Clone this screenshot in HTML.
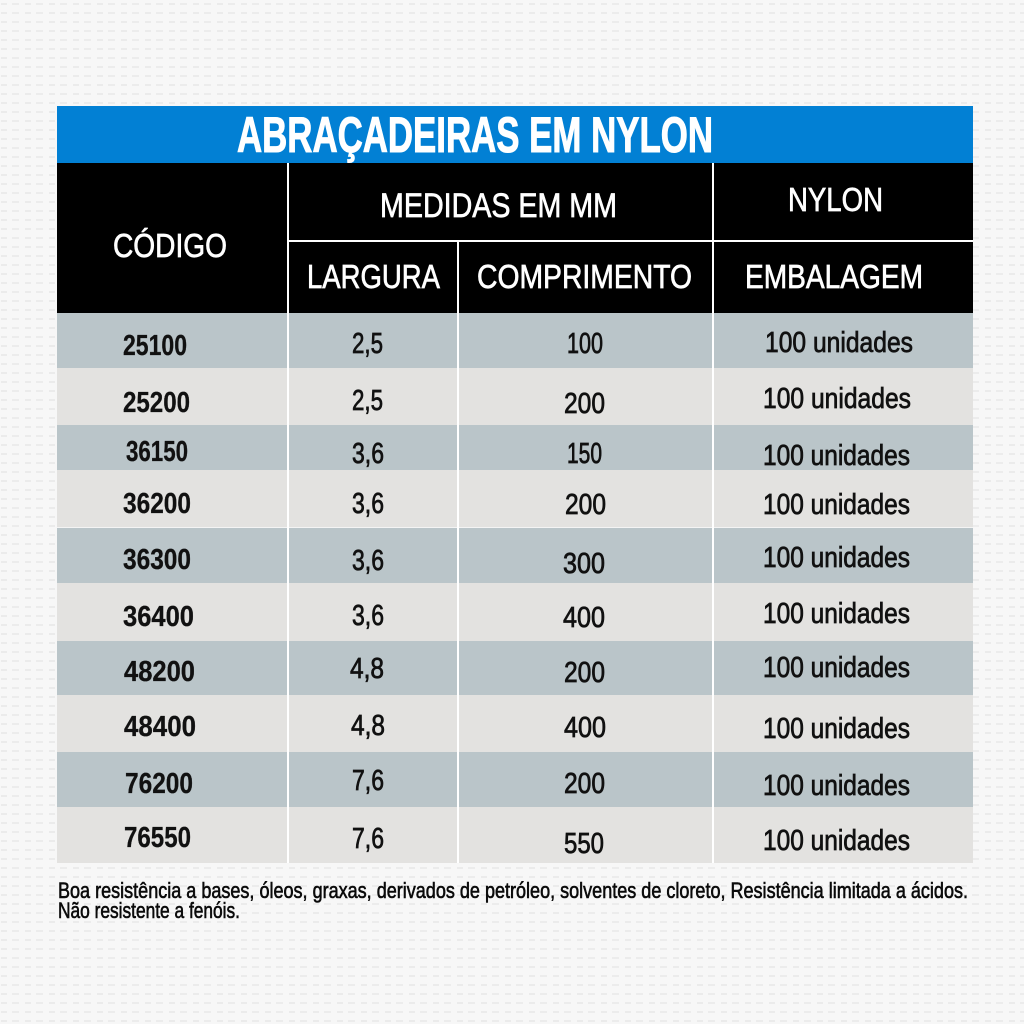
<!DOCTYPE html>
<html>
<head>
<meta charset="utf-8">
<style>
html,body{margin:0;padding:0;background:#f5f5f5;}
svg{display:block;}
text{font-family:"Liberation Sans","DejaVu Sans",sans-serif;}
.h{fill:#fff;stroke:#fff;stroke-width:0.7;font-size:33px;}
.c{fill:#111;stroke:#111;stroke-width:0.3;font-weight:bold;font-size:29px;}
.d{fill:#111;stroke:#111;stroke-width:0.75;font-size:29px;}
.f{fill:#0a0a0a;stroke:#0a0a0a;stroke-width:0.6;font-size:22px;}
</style>
</head>
<body>
<svg width="1024" height="1024" viewBox="0 0 1024 1024" xmlns="http://www.w3.org/2000/svg">
<defs>
<pattern id="tex" width="24" height="9" patternUnits="userSpaceOnUse">
<rect width="24" height="9" fill="#f7f7f7"/>
<rect x="1" y="3" width="6" height="2" fill="#ebebeb"/>
<rect x="12" y="3" width="7" height="2" fill="#ececec"/>
</pattern>
</defs>
<rect width="1024" height="1024" fill="url(#tex)"/>

<!-- title bar -->
<rect x="57" y="106" width="916" height="57" fill="#0280d4"/>
<text x="237" y="152" font-size="50" font-weight="bold" fill="#fff" stroke="#fff" stroke-width="1" textLength="476" lengthAdjust="spacingAndGlyphs">ABRAÇADEIRAS EM NYLON</text>

<!-- header -->
<rect x="57" y="163" width="916" height="150" fill="#000"/>

<!-- rows -->
<rect x="57" y="313" width="916" height="55" fill="#bac5c9"/>
<rect x="57" y="368" width="916" height="57" fill="#e3e2e0"/>
<rect x="57" y="425" width="916" height="45" fill="#bac5c9"/>
<rect x="57" y="470" width="916" height="57" fill="#e3e2e0"/>
<rect x="57" y="527" width="916" height="56" fill="#bac5c9"/>
<rect x="57" y="583" width="916" height="58" fill="#e3e2e0"/>
<rect x="57" y="641" width="916" height="54" fill="#bac5c9"/>
<rect x="57" y="695" width="916" height="57" fill="#e3e2e0"/>
<rect x="57" y="752" width="916" height="55" fill="#bac5c9"/>
<rect x="57" y="807" width="916" height="56" fill="#e3e2e0"/>

<!-- lines -->
<rect x="57" y="527" width="916" height="1" fill="#f4f4f4"/>
<rect x="287" y="163" width="2" height="700" fill="#fff"/>
<rect x="712" y="163" width="2" height="700" fill="#fff"/>
<rect x="457" y="241" width="2" height="622" fill="#fff"/>
<rect x="287" y="240" width="686" height="2" fill="#fff"/>

<!-- header text -->
<text class="h" x="113" y="257" textLength="114" lengthAdjust="spacingAndGlyphs">CÓDIGO</text>
<text class="h" x="380" y="217" textLength="237" lengthAdjust="spacingAndGlyphs" style="font-size:34px">MEDIDAS EM MM</text>
<text class="h" x="788" y="211" textLength="95" lengthAdjust="spacingAndGlyphs">NYLON</text>
<text class="h" x="307" y="288" textLength="133" lengthAdjust="spacingAndGlyphs">LARGURA</text>
<text class="h" x="477" y="288" textLength="215" lengthAdjust="spacingAndGlyphs">COMPRIMENTO</text>
<text class="h" x="745" y="288" textLength="178" lengthAdjust="spacingAndGlyphs">EMBALAGEM</text>

<!-- codes -->
<text class="c" x="123" y="355" textLength="64" lengthAdjust="spacingAndGlyphs">25100</text>
<text class="c" x="123" y="412" textLength="67" lengthAdjust="spacingAndGlyphs">25200</text>
<text class="c" x="126" y="461" textLength="62" lengthAdjust="spacingAndGlyphs">36150</text>
<text class="c" x="123" y="513" textLength="68" lengthAdjust="spacingAndGlyphs">36200</text>
<text class="c" x="123" y="569" textLength="68" lengthAdjust="spacingAndGlyphs">36300</text>
<text class="c" x="123" y="626" textLength="71" lengthAdjust="spacingAndGlyphs">36400</text>
<text class="c" x="124" y="681" textLength="71" lengthAdjust="spacingAndGlyphs">48200</text>
<text class="c" x="124" y="736" textLength="72" lengthAdjust="spacingAndGlyphs">48400</text>
<text class="c" x="125" y="793" textLength="68" lengthAdjust="spacingAndGlyphs">76200</text>
<text class="c" x="124" y="847" textLength="67" lengthAdjust="spacingAndGlyphs">76550</text>

<!-- largura -->
<text class="d" x="352" y="353" textLength="31" lengthAdjust="spacingAndGlyphs">2,5</text>
<text class="d" x="352" y="410" textLength="31" lengthAdjust="spacingAndGlyphs">2,5</text>
<text class="d" x="352" y="463" textLength="32" lengthAdjust="spacingAndGlyphs">3,6</text>
<text class="d" x="352" y="513" textLength="32" lengthAdjust="spacingAndGlyphs">3,6</text>
<text class="d" x="352" y="570" textLength="32" lengthAdjust="spacingAndGlyphs">3,6</text>
<text class="d" x="352" y="625" textLength="32" lengthAdjust="spacingAndGlyphs">3,6</text>
<text class="d" x="350" y="678" textLength="34" lengthAdjust="spacingAndGlyphs">4,8</text>
<text class="d" x="351" y="735" textLength="34" lengthAdjust="spacingAndGlyphs">4,8</text>
<text class="d" x="352" y="790" textLength="32" lengthAdjust="spacingAndGlyphs">7,6</text>
<text class="d" x="352" y="848" textLength="32" lengthAdjust="spacingAndGlyphs">7,6</text>

<!-- comprimento -->
<text class="d" x="567" y="353" textLength="36" lengthAdjust="spacingAndGlyphs">100</text>
<text class="d" x="564" y="413" textLength="41" lengthAdjust="spacingAndGlyphs">200</text>
<text class="d" x="567" y="463" textLength="35" lengthAdjust="spacingAndGlyphs">150</text>
<text class="d" x="565" y="514" textLength="41" lengthAdjust="spacingAndGlyphs">200</text>
<text class="d" x="563" y="573" textLength="42" lengthAdjust="spacingAndGlyphs">300</text>
<text class="d" x="563" y="627" textLength="42" lengthAdjust="spacingAndGlyphs">400</text>
<text class="d" x="564" y="682" textLength="41" lengthAdjust="spacingAndGlyphs">200</text>
<text class="d" x="564" y="737" textLength="42" lengthAdjust="spacingAndGlyphs">400</text>
<text class="d" x="564" y="793" textLength="41" lengthAdjust="spacingAndGlyphs">200</text>
<text class="d" x="564" y="853" textLength="40" lengthAdjust="spacingAndGlyphs">550</text>

<!-- embalagem -->
<text class="d" x="765" y="352" textLength="148" lengthAdjust="spacingAndGlyphs">100 unidades</text>
<text class="d" x="763" y="408" textLength="148" lengthAdjust="spacingAndGlyphs">100 unidades</text>
<text class="d" x="763" y="465" textLength="147" lengthAdjust="spacingAndGlyphs">100 unidades</text>
<text class="d" x="763" y="514" textLength="147" lengthAdjust="spacingAndGlyphs">100 unidades</text>
<text class="d" x="763" y="567" textLength="147" lengthAdjust="spacingAndGlyphs">100 unidades</text>
<text class="d" x="763" y="623" textLength="147" lengthAdjust="spacingAndGlyphs">100 unidades</text>
<text class="d" x="763" y="677" textLength="147" lengthAdjust="spacingAndGlyphs">100 unidades</text>
<text class="d" x="763" y="738" textLength="147" lengthAdjust="spacingAndGlyphs">100 unidades</text>
<text class="d" x="763" y="795" textLength="147" lengthAdjust="spacingAndGlyphs">100 unidades</text>
<text class="d" x="763" y="850" textLength="147" lengthAdjust="spacingAndGlyphs">100 unidades</text>

<!-- footnote -->
<text class="f" x="58" y="898" textLength="910" lengthAdjust="spacingAndGlyphs">Boa resistência  a bases, óleos, graxas, derivados de petróleo, solventes de cloreto, Resistência limitada a ácidos.</text>
<text class="f" x="58" y="918" textLength="182" lengthAdjust="spacingAndGlyphs">Não resistente a fenóis.</text>
</svg>
</body>
</html>
